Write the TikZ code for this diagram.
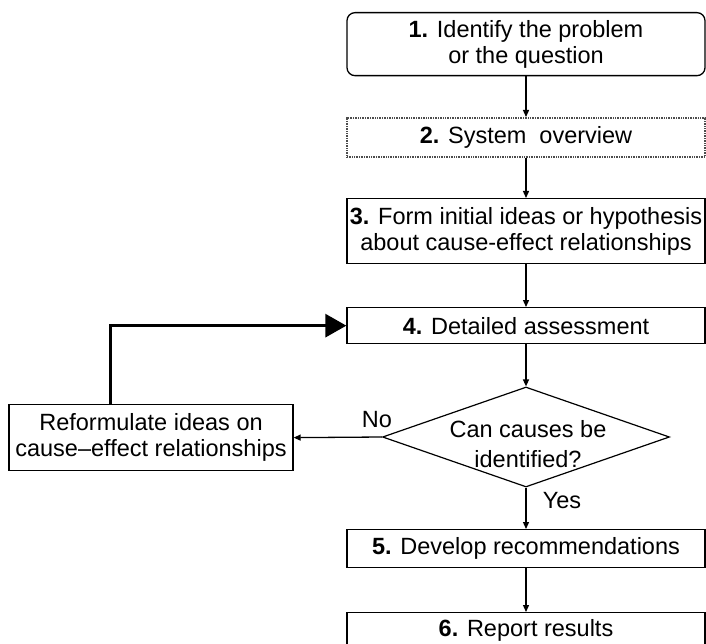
\documentclass[tikz,border=0pt]{standalone}
\usepackage{fontspec}
\setmainfont{Liberation Sans}
\usetikzlibrary{shapes.geometric,arrows.meta}
\begin{document}
\begin{tikzpicture}[x=1pt,y=1pt,
  txt/.style={font=\fontsize{23.5}{26}\selectfont, align=center, inner sep=0pt},
  stepbox/.style={txt, draw, line width=1.3pt, minimum width=358pt, anchor=north},
  dottedbox/.style={stepbox, draw=black!70, line width=1.6pt, dash pattern=on 1pt off 0.7pt},
  decision/.style={diamond, draw, line width=1.2pt, minimum width=287pt, minimum height=100pt, inner sep=0pt},
  arr/.style={line width=1.3pt, -{Triangle[length=7pt,width=6pt]}},
  feedback/.style={line width=3pt, -{Triangle[length=21pt,width=23pt]}}
]
\useasboundingbox (0,0) rectangle (706,-644);

% main column of steps
\node[stepbox, rounded corners=8pt, minimum height=63pt] (b1) at (526,-12)
  {\textbf{1.} Identify the problem\\or the question};
\node[dottedbox, minimum height=39pt] (b2) at (526,-117)
  {\textbf{2.} System~ overview};
\node[stepbox, minimum height=65pt] (b3) at (526,-198)
  {\textbf{3.} Form initial ideas or hypothesis\\about cause-effect relationships};
\node[stepbox, minimum height=36pt] (b4) at (526,-307)
  {\textbf{4.} Detailed assessment};
\node[decision] (dec) at (526,-437) {};
\node[txt, font=\fontsize{23.5}{30}\selectfont] (q) at (528,-444)
  {Can causes be\\identified?};
\node[stepbox, minimum height=38pt] (b5) at (526,-529)
  {\textbf{5.} Develop recommendations};
\node[stepbox, minimum height=36pt] (b6) at (526,-612)
  {\textbf{6.} Report results};

% side box for the loop back
\node[stepbox, minimum width=284pt, minimum height=66pt] (rf) at (151,-404)
  {Reformulate ideas on\\cause--effect relationships};
\coordinate (fbx) at (110,0);

% branch labels
\node[txt] (no) at (377,-420) {No};
\node[txt] (yes) at (562,-501) {Yes};

% connectors
\draw[arr] (b1) -- (b2);
\draw[arr] (b2) -- (b3);
\draw[arr] (b3) -- (b4);
\draw[arr] (b4) -- (dec);
\draw[arr] (dec) -- (b5);
\draw[arr] (b5) -- (b6);
\draw[arr] (dec.west) -- (rf.east);
\draw[feedback] (rf.north -| fbx) |- (b4.west);
\end{tikzpicture}
\end{document}
